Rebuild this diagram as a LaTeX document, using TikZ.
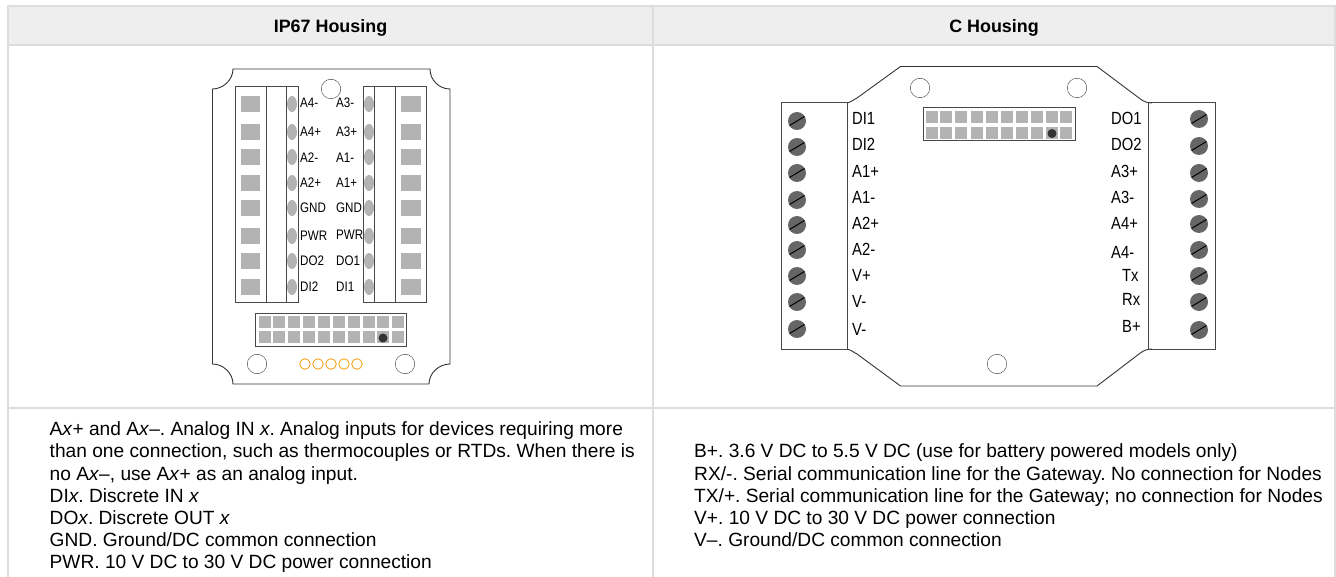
\documentclass[tikz,border=0pt]{standalone}
\usepackage{fontspec}
\setmainfont{Liberation Sans}
\newfontfamily\narrowfont[FakeStretch=0.84]{Liberation Sans}
\frenchspacing
\definecolor{rule}{HTML}{DDDDDD}
\definecolor{head}{HTML}{EEEEEE}
\definecolor{pad}{HTML}{B3B3B3}
\definecolor{screw}{HTML}{666666}
\definecolor{ledring}{HTML}{F5A623}
\definecolor{line}{HTML}{333333}
\definecolor{blockline}{HTML}{484848}
\begin{document}
\begin{tikzpicture}[x=1pt,y=-1pt,
    tag/.style={inner sep=0pt,anchor=base west,font=\narrowfont\fontsize{13.8}{14}\selectfont},
    pin/.style={inner sep=0pt,anchor=base west,font=\narrowfont\fontsize{17.6}{18}\selectfont},
    headtext/.style={inner sep=0pt,anchor=base,font=\fontsize{17.9}{20}\selectfont\bfseries},
    body/.style={inner sep=0pt,anchor=base west,font=\fontsize{19.15}{22}\selectfont},
    hole/.style={circle,draw=line,inner sep=0pt,minimum size=19.5pt},
    led/.style={circle,draw=ledring,inner sep=0pt,minimum size=10.5pt,line width=.9pt},
    block/.style={draw=blockline,line width=1pt},
    square/.style={fill=pad,inner sep=0pt,minimum size=11.5pt}]
    \useasboundingbox (0,0) rectangle (1336,577);
    % table
    \fill [head] (8,6) rectangle (1335,45.5);
    \draw [rule,line width=2pt] (7,6) -- (1336,6);
    \draw [rule,line width=2pt] (7,45.5) -- (1336,45.5);
    \draw [rule,line width=2pt] (7,408) -- (1336,408);
    \draw [rule,line width=2pt] (8,6) -- (8,577);
    \draw [rule,line width=2pt] (652.5,6) -- (652.5,577);
    \draw [rule,line width=2pt] (1335,6) -- (1335,577);
    \node [headtext] (ip67) at (330.5,33) {IP67 Housing};
    \node [headtext] (chouse) at (994,33) {C Housing};
    % IP67 housing
    \draw [line,line width=.9pt] (233,69) -- (430,69) .. controls (430,80) and (439,89) .. (450,89) -- (450,364)
        .. controls (439,364) and (429,373) .. (429,384) -- (233,384)
        .. controls (233,373) and (223,364) .. (212.5,364) -- (212.5,89)
        .. controls (223,89) and (233,80) .. (233,69) -- cycle;
    \draw [block] (235,87) rectangle (298,303);
    \draw [block] (266,87) -- (266,303);
    \draw [block] (286,87) -- (286,303);
    \draw [block] (363,87) rectangle (426,303);
    \draw [block] (374,87) -- (374,303);
    \draw [block] (395,87) -- (395,303);
    \foreach \y in {104,132,157,183,208,236,261,287} {
        \fill [pad] (241,\y-8) rectangle (260,\y+8);
        \fill [pad] (401,\y-8) rectangle (421,\y+8);
        \fill [pad] (292,\y) ellipse (5 and 8);
        \fill [pad] (369,\y) ellipse (5 and 8);
    }
    \node [tag] (a4m) at (300,108) {A4-};
    \node [tag] (a4p) at (300,137) {A4+};
    \node [tag] (a2m) at (300,163) {A2-};
    \node [tag] (a2p) at (300,188) {A2+};
    \node [tag] (gndl) at (300,213) {GND};
    \node [tag] (pwrl) at (300,241) {PWR};
    \node [tag] (do2) at (300,266) {DO2};
    \node [tag] (di2) at (300,292) {DI2};
    \node [tag] (a3m) at (336,108) {A3-};
    \node [tag] (a3p) at (336,137) {A3+};
    \node [tag] (a1m) at (336,163) {A1-};
    \node [tag] (a1p) at (336,188) {A1+};
    \node [tag] (gndr) at (336,213) {GND};
    \node [tag] (pwrr) at (336,240) {PWR};
    \node [tag] (do1) at (336,266) {DO1};
    \node [tag] (di1) at (336,292) {DI1};
    \draw [block] (255.5,314) rectangle (406,346);
    \foreach \x in {265,279,294,309,324,339,354,369,383,398} {
        \node [square] at (\x,322) {};
        \node [square] at (\x,337) {};
    }
    \fill [line] (383,338) circle (4.5);
    \node [hole] (h1) at (331,89) {};
    \node [hole] (h2) at (257,364) {};
    \node [hole] (h3) at (405,364) {};
    \node [led] (l1) at (305,364) {};
    \node [led] (l2) at (318,364) {};
    \node [led] (l3) at (331,364) {};
    \node [led] (l4) at (344,364) {};
    \node [led] (l5) at (357,364) {};
    % C housing
    \draw [line,line width=.9pt] (847,103) .. controls (851,102) and (853,100) .. (857,98) -- (900.5,66.5) -- (1097,66.5)
        -- (1139,98) .. controls (1143,101) and (1146,103) .. (1152,103);
    \draw [line,line width=.9pt] (847,349) .. controls (851,350) and (853,352) .. (857,354) -- (900.5,386) -- (1097,386)
        -- (1139,354) .. controls (1143,351) and (1146,349) .. (1152,349);
    \draw [blockline,line width=1pt] (781,103) rectangle (847,349);
    \draw [blockline,line width=1pt] (1148,103) rectangle (1215,349);
    \foreach \y in {121,147,173,200,225,250,276,302,329} {
        \fill [screw] (797,\y) circle (9);
        \draw [black,line width=1pt] (789.5,\y+4.5) -- (804.5,\y-4.5);
    }
    \foreach \y in {119,146,173,199,224,250,276,302,330} {
        \fill [screw] (1199,\y) circle (9);
        \draw [black,line width=1pt] (1191.5,\y+4.5) -- (1206.5,\y-4.5);
    }
    \node [pin] (cdi1) at (852,125) {DI1};
    \node [pin] (cdi2) at (852,151) {DI2};
    \node [pin] (ca1p) at (852,178) {A1+};
    \node [pin] (ca1m) at (852,204) {A1-};
    \node [pin] (ca2p) at (852,230) {A2+};
    \node [pin] (ca2m) at (852,256) {A2-};
    \node [pin] (cvp) at (852,282) {V+};
    \node [pin] (cvm1) at (852,308) {V-};
    \node [pin] (cvm2) at (852,335) {V-};
    \node [pin] (cdo1) at (1111,125) {DO1};
    \node [pin] (cdo2) at (1111,151) {DO2};
    \node [pin] (ca3p) at (1111,178) {A3+};
    \node [pin] (ca3m) at (1111,204) {A3-};
    \node [pin] (ca4p) at (1111,230) {A4+};
    \node [pin] (ca4m) at (1111,259) {A4-};
    \node [pin] (ctx) at (1122,282) {Tx};
    \node [pin] (crx) at (1122,306) {Rx};
    \node [pin] (cbp) at (1122,333) {B+};
    \draw [block] (923,108) rectangle (1075,141);
    \foreach \x in {932,946,961,977,992,1007,1022,1037,1052,1066} {
        \node [square] at (\x,117) {};
        \node [square] at (\x,133) {};
    }
    \fill [line] (1052,133.5) circle (4.5);
    \node [hole] (h4) at (920,88) {};
    \node [hole] (h5) at (1077,88) {};
    \node [hole] (h6) at (997,364) {};
    % notes
    \node [body] (n1) at (49.5,435) {A\emph{x}+ and A\emph{x}–. Analog IN \emph{x}. Analog inputs for devices requiring more};
    \node [body] (n2) at (49.5,457) {than one connection, such as thermocouples or RTDs. When there is};
    \node [body] (n3) at (49.5,480) {no A\emph{x}–, use A\emph{x}+ as an analog input.};
    \node [body] (n4) at (49.5,502) {DI\emph{x}. Discrete IN \emph{x}};
    \node [body] (n5) at (49.5,524) {DO\emph{x}. Discrete OUT \emph{x}};
    \node [body] (n6) at (49.5,546) {GND. Ground/DC common connection};
    \node [body] (n7) at (49.5,568) {PWR. 10 V DC to 30 V DC power connection};
    \node [body] (r1) at (694,457) {B+. 3.6 V DC to 5.5 V DC (use for battery powered models only)};
    \node [body] (r2) at (694,480) {RX/-. Serial communication line for the Gateway. No connection for Nodes};
    \node [body] (r3) at (694,502) {TX/+. Serial communication line for the Gateway; no connection for Nodes};
    \node [body] (r4) at (694,524) {V+. 10 V DC to 30 V DC power connection};
    \node [body] (r5) at (694,546) {V–. Ground/DC common connection};
\end{tikzpicture}
\end{document}
